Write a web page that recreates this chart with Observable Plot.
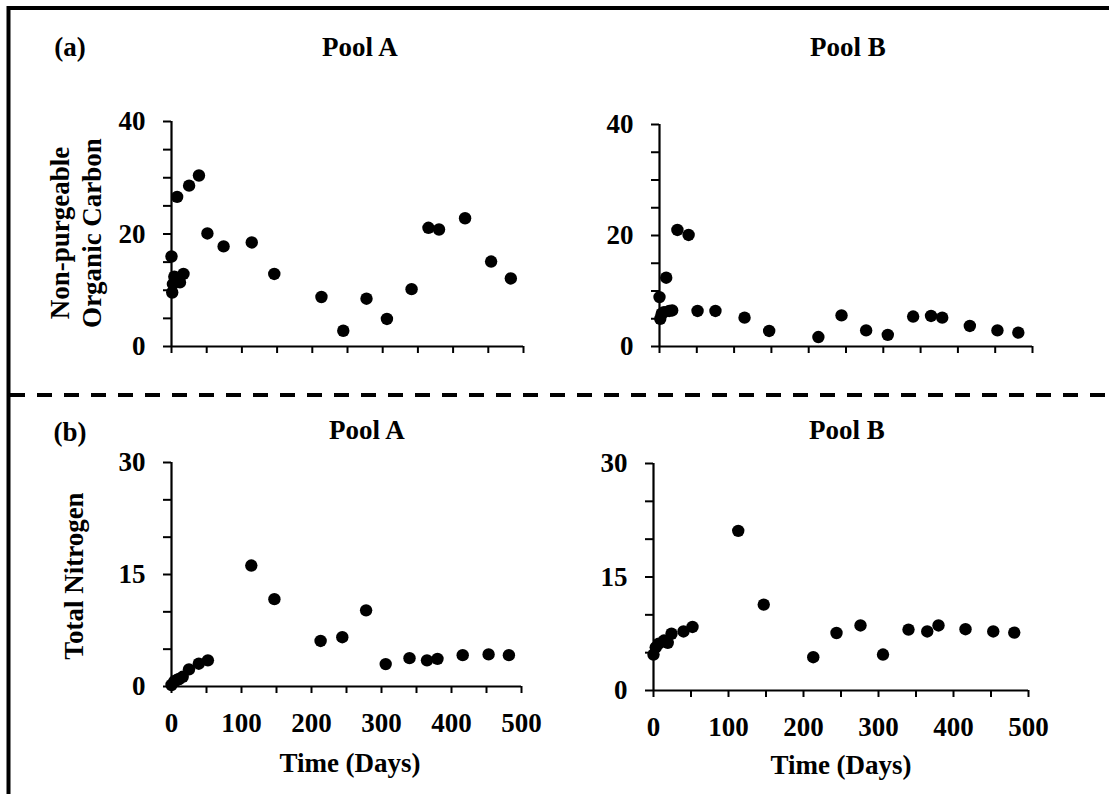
<!DOCTYPE html>
<html>
<head>
<meta charset="utf-8">
<script src="https://cdn.jsdelivr.net/npm/d3@7"></script>
<script src="https://cdn.jsdelivr.net/npm/@observablehq/plot@0.6"></script>
<style>
  html, body { margin: 0; padding: 0; background: #fff; }
  #fig { position: relative; width: 1109px; height: 794px; overflow: hidden; background: #fff;
         font-family: "Liberation Serif", "Times New Roman", serif; font-weight: bold; color: #000; }
  .panel { position: absolute; }
  #overlay { position: absolute; left: 0; top: 0; }
</style>
</head>
<body>
<div id="fig"></div>
<script>
// ---- Data ----
const panelTitles = ["Pool A", "Pool B"];
const rowLabels = ["(a)", "(b)"];
const xTickLabels = [0, 100, 200, 300, 400, 500];
const xLabel = "Time (Days)";
const npocLabelLines = ["Non-purgeable", "Organic Carbon"];
const tnLabel = "Total Nitrogen";
const npocTicks = [0, 20, 40];
const tnTicks = [0, 15, 30];

// (a) Non-purgeable organic carbon, Pool A
const npocA_days = [0, 1, 2, 4, 8, 12, 17, 25, 39, 51, 74, 114, 146, 213, 244, 277, 306, 341, 365, 380, 417, 454, 482];
const npocA_vals = [16.0, 9.6, 11.1, 12.4, 26.6, 11.4, 12.9, 28.6, 30.4, 20.1, 17.8, 18.5, 12.9, 8.8, 2.8, 8.5, 4.9, 10.2, 21.1, 20.8, 22.8, 15.1, 12.1];
// (a) Non-purgeable organic carbon, Pool B
const npocB_days = [0, 1, 3, 6, 9, 13, 17, 24, 39, 51, 75, 114, 147, 213, 244, 277, 306, 340, 364, 379, 416, 453, 481];
const npocB_vals = [8.9, 5.0, 5.9, 6.2, 12.4, 6.4, 6.5, 21.0, 20.1, 6.4, 6.4, 5.2, 2.8, 1.7, 5.6, 2.9, 2.1, 5.4, 5.5, 5.2, 3.7, 2.9, 2.5];
// (b) Total nitrogen, Pool A
const tnA_days = [0, 4, 8, 11, 16, 25, 39, 52, 114, 147, 213, 244, 278, 306, 340, 365, 380, 416, 453, 482];
const tnA_vals = [0.2, 0.7, 0.9, 1.0, 1.3, 2.3, 3.05, 3.5, 16.2, 11.7, 6.1, 6.6, 10.2, 3.0, 3.8, 3.5, 3.7, 4.2, 4.3, 4.2];
// (b) Total nitrogen, Pool B
const tnB_days = [0, 3, 7, 14, 19, 24, 40, 52, 113, 147, 213, 244, 276, 306, 340, 365, 380, 416, 453, 481];
const tnB_vals = [4.75, 5.7, 6.2, 6.6, 6.3, 7.5, 7.8, 8.4, 21.1, 11.35, 4.4, 7.6, 8.6, 4.75, 8.05, 7.8, 8.6, 8.1, 7.8, 7.65];

const fig = document.getElementById("fig");
const FONT = "'Liberation Serif', 'Times New Roman', serif";

function makePanel({x0, x1, y0, y1, ymax, labelTicks, days, vals, showXLabels}) {
  const mL = 80, mR = 30, mT = 20, mB = 60;
  const width = mL + (x1 - x0) + mR;
  const height = mT + (y0 - y1) + mB;
  const data = days.map((d, i) => ({day: d, v: vals[i]}));
  const chart = Plot.plot({
    width, height,
    marginLeft: mL, marginRight: mR, marginTop: mT, marginBottom: mB,
    x: {domain: [0, 500]},
    y: {domain: [0, ymax]},
    style: {fontFamily: FONT, fontSize: "27px", fontWeight: "bold", color: "#000", background: "transparent", overflow: "visible"},
    marks: [
      Plot.axisY({ticks: d3.range(0, ymax + 1, 5), tickFormat: d => labelTicks.includes(d) ? String(d) : "",
                  tickSize: 8, tickPadding: 18, strokeWidth: 2, label: null}),
      Plot.axisX({ticks: d3.range(0, 501, 50), tickFormat: d => (showXLabels && xTickLabels.includes(d)) ? String(d) : "",
                  tickSize: 7, tickPadding: 19, strokeWidth: 2, label: null}),
      Plot.ruleY([0], {x1: 0, x2: 500, strokeWidth: 2.2, stroke: "#000"}),
      Plot.ruleX([0], {y1: 0, y2: ymax, strokeWidth: 2.2, stroke: "#000"}),
      Plot.dot(data, {x: "day", y: "v", r: 6.2, fill: "#000", stroke: "none"})
    ]
  });
  chart.classList.add("panel");
  chart.style.left = (x0 - mL) + "px";
  chart.style.top = (y1 - mT) + "px";
  fig.appendChild(chart);
}

makePanel({x0: 171, x1: 523, y0: 346, y1: 121, ymax: 40, labelTicks: npocTicks, days: npocA_days, vals: npocA_vals, showXLabels: false});
makePanel({x0: 659, x1: 1032, y0: 346, y1: 124, ymax: 40, labelTicks: npocTicks, days: npocB_days, vals: npocB_vals, showXLabels: false});
makePanel({x0: 171, x1: 521, y0: 686, y1: 462, ymax: 30, labelTicks: tnTicks, days: tnA_days, vals: tnA_vals, showXLabels: true});
makePanel({x0: 653, x1: 1028, y0: 690, y1: 463, ymax: 30, labelTicks: tnTicks, days: tnB_days, vals: tnB_vals, showXLabels: true});

// ---- Overlay: border, dashed divider and text ----
const NS = "http://www.w3.org/2000/svg";
const ov = document.createElementNS(NS, "svg");
ov.setAttribute("id", "overlay");
ov.setAttribute("width", 1109);
ov.setAttribute("height", 794);
fig.appendChild(ov);

function el(tag, attrs, text) {
  const e = document.createElementNS(NS, tag);
  for (const k in attrs) e.setAttribute(k, attrs[k]);
  if (text != null) e.textContent = text;
  ov.appendChild(e);
  return e;
}
// figure border (extends beyond right and bottom edges)
el("rect", {x: 8.5, y: 8, width: 1200, height: 900, fill: "none", stroke: "#000", "stroke-width": 4});
// dashed divider
el("line", {x1: 10, x2: 1109, y1: 395, y2: 395, stroke: "#000", "stroke-width": 4, "stroke-dasharray": "15 12"});

const tStyle = {"font-family": FONT, "font-weight": "bold", "font-size": 27, fill: "#000"};
function txt(x, y, s, extra = {}) {
  return el("text", Object.assign({x, y, "text-anchor": "middle", "dominant-baseline": "central"}, tStyle, extra), s);
}
// row labels
txt(70, 47, rowLabels[0]);
txt(70, 432, rowLabels[1]);
// panel titles
txt(360, 47, panelTitles[0]);
txt(848, 47, panelTitles[1]);
txt(367, 430, panelTitles[0]);
txt(847, 430, panelTitles[1]);
// x axis titles
txt(350, 763, xLabel);
txt(841, 765, xLabel);
// y axis titles (rotated)
txt(0, 0, npocLabelLines[0], {transform: "translate(60,233) rotate(-90)"});
txt(0, 0, npocLabelLines[1], {transform: "translate(92,233) rotate(-90)"});
txt(0, 0, tnLabel, {transform: "translate(74,576) rotate(-90)"});
</script>
</body>
</html>
